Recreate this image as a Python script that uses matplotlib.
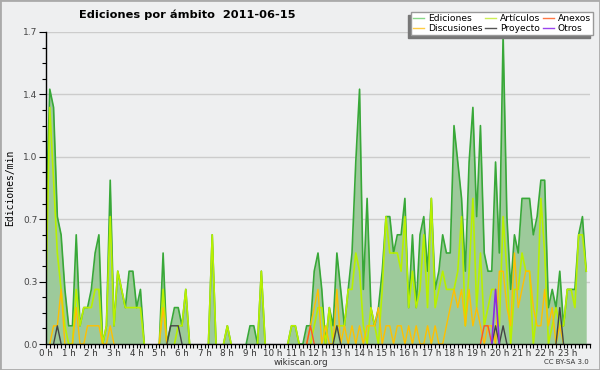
import numpy as np
import matplotlib
matplotlib.use("Agg")
import matplotlib.pyplot as plt
from matplotlib.lines import Line2D
from matplotlib.patches import Rectangle

# edits per minute, one value per 10-minute slot (144 slots = 24 h)
ediciones = [
    0.7, 1.4, 1.3, 0.7, 0.6, 0.3, 0.1, 0.1, 0.6, 0.1, 0.2, 0.2,
    0.3, 0.5, 0.6, 0.0, 0.1, 0.9, 0.1, 0.4, 0.3, 0.2, 0.4, 0.4,
    0.2, 0.3, 0.0, 0.0, 0.0, 0.0, 0.0, 0.5, 0.0, 0.1, 0.2, 0.2,
    0.1, 0.3, 0.0, 0.0, 0.0, 0.0, 0.0, 0.0, 0.6, 0.0, 0.0, 0.0,
    0.1, 0.0, 0.0, 0.0, 0.0, 0.0, 0.1, 0.1, 0.0, 0.4, 0.0, 0.0,
    0.0, 0.0, 0.0, 0.0, 0.0, 0.1, 0.1, 0.0, 0.0, 0.1, 0.1, 0.4,
    0.5, 0.3, 0.0, 0.2, 0.1, 0.5, 0.3, 0.1, 0.3, 0.5, 1.0, 1.4,
    0.3, 0.8, 0.2, 0.1, 0.2, 0.4, 0.7, 0.7, 0.5, 0.6, 0.6, 0.8,
    0.2, 0.6, 0.2, 0.6, 0.7, 0.4, 0.8, 0.3, 0.4, 0.6, 0.5, 0.5,
    1.2, 1.0, 0.8, 0.4, 1.0, 1.3, 0.7, 1.2, 0.5, 0.4, 0.4, 1.0,
    0.5, 1.7, 0.7, 0.3, 0.6, 0.5, 0.8, 0.8, 0.8, 0.6, 0.7, 0.9,
    0.9, 0.2, 0.3, 0.2, 0.4, 0.1, 0.3, 0.3, 0.3, 0.6, 0.7, 0.4,
]
articulos = [
    0.3, 1.3, 0.9, 0.5, 0.3, 0.1, 0.0, 0.0, 0.3, 0.1, 0.2, 0.2,
    0.2, 0.3, 0.3, 0.0, 0.1, 0.7, 0.1, 0.4, 0.3, 0.2, 0.2, 0.2,
    0.2, 0.2, 0.0, 0.0, 0.0, 0.0, 0.0, 0.3, 0.0, 0.0, 0.0, 0.1,
    0.1, 0.3, 0.0, 0.0, 0.0, 0.0, 0.0, 0.0, 0.6, 0.0, 0.0, 0.0,
    0.1, 0.0, 0.0, 0.0, 0.0, 0.0, 0.0, 0.0, 0.0, 0.4, 0.0, 0.0,
    0.0, 0.0, 0.0, 0.0, 0.0, 0.1, 0.1, 0.0, 0.0, 0.0, 0.0, 0.1,
    0.2, 0.2, 0.0, 0.2, 0.0, 0.1, 0.1, 0.1, 0.3, 0.3, 0.5, 0.4,
    0.1, 0.0, 0.2, 0.1, 0.0, 0.3, 0.7, 0.5, 0.5, 0.5, 0.4, 0.7,
    0.2, 0.4, 0.2, 0.3, 0.6, 0.2, 0.8, 0.2, 0.3, 0.4, 0.3, 0.3,
    0.3, 0.4, 0.7, 0.1, 0.4, 0.8, 0.2, 0.5, 0.1, 0.2, 0.3, 0.3,
    0.1, 0.7, 0.4, 0.0, 0.3, 0.3, 0.5, 0.4, 0.4, 0.0, 0.2, 0.8,
    0.5, 0.0, 0.1, 0.2, 0.1, 0.1, 0.3, 0.3, 0.2, 0.6, 0.6, 0.4,
]
discusiones = [
    0.0, 0.0, 0.1, 0.1, 0.3, 0.0, 0.0, 0.0, 0.2, 0.0, 0.0, 0.1,
    0.1, 0.1, 0.1, 0.0, 0.0, 0.1, 0.0, 0.0, 0.0, 0.0, 0.0, 0.0,
    0.0, 0.0, 0.0, 0.0, 0.0, 0.0, 0.0, 0.2, 0.0, 0.0, 0.0, 0.0,
    0.0, 0.0, 0.0, 0.0, 0.0, 0.0, 0.0, 0.0, 0.0, 0.0, 0.0, 0.0,
    0.0, 0.0, 0.0, 0.0, 0.0, 0.0, 0.0, 0.0, 0.0, 0.0, 0.0, 0.0,
    0.0, 0.0, 0.0, 0.0, 0.0, 0.0, 0.0, 0.0, 0.0, 0.0, 0.1, 0.2,
    0.3, 0.0, 0.1, 0.0, 0.0, 0.3, 0.0, 0.1, 0.0, 0.1, 0.0, 0.1,
    0.0, 0.1, 0.1, 0.1, 0.2, 0.0, 0.1, 0.1, 0.0, 0.1, 0.1, 0.0,
    0.1, 0.0, 0.1, 0.0, 0.0, 0.1, 0.0, 0.1, 0.0, 0.0, 0.1, 0.2,
    0.3, 0.2, 0.3, 0.1, 0.3, 0.1, 0.2, 0.1, 0.0, 0.1, 0.1, 0.0,
    0.4, 0.4, 0.2, 0.1, 0.5, 0.2, 0.3, 0.4, 0.4, 0.2, 0.1, 0.1,
    0.3, 0.1, 0.2, 0.0, 0.1, 0.0, 0.0, 0.0, 0.0, 0.0, 0.0, 0.0,
]
anexos = [
    0.0, 0.0, 0.0, 0.0, 0.0, 0.0, 0.0, 0.0, 0.0, 0.0, 0.0, 0.0,
    0.0, 0.0, 0.0, 0.0, 0.0, 0.0, 0.0, 0.0, 0.0, 0.0, 0.0, 0.0,
    0.0, 0.0, 0.0, 0.0, 0.0, 0.0, 0.0, 0.0, 0.0, 0.0, 0.0, 0.0,
    0.0, 0.0, 0.0, 0.0, 0.0, 0.0, 0.0, 0.0, 0.0, 0.0, 0.0, 0.0,
    0.0, 0.0, 0.0, 0.0, 0.0, 0.0, 0.0, 0.0, 0.0, 0.0, 0.0, 0.0,
    0.0, 0.0, 0.0, 0.0, 0.0, 0.0, 0.0, 0.0, 0.0, 0.0, 0.1, 0.0,
    0.0, 0.0, 0.0, 0.0, 0.0, 0.0, 0.0, 0.0, 0.0, 0.0, 0.0, 0.0,
    0.0, 0.0, 0.0, 0.0, 0.0, 0.0, 0.0, 0.0, 0.0, 0.0, 0.0, 0.0,
    0.0, 0.0, 0.0, 0.0, 0.0, 0.0, 0.0, 0.0, 0.0, 0.0, 0.0, 0.0,
    0.0, 0.0, 0.0, 0.0, 0.0, 0.0, 0.0, 0.0, 0.1, 0.1, 0.0, 0.0,
    0.0, 0.0, 0.0, 0.0, 0.0, 0.0, 0.0, 0.0, 0.0, 0.0, 0.0, 0.0,
    0.0, 0.0, 0.0, 0.0, 0.0, 0.0, 0.0, 0.0, 0.0, 0.0, 0.0, 0.0,
]
proyecto = [
    0.0, 0.0, 0.0, 0.1, 0.0, 0.0, 0.0, 0.0, 0.0, 0.0, 0.0, 0.0,
    0.0, 0.0, 0.0, 0.0, 0.0, 0.0, 0.0, 0.0, 0.0, 0.0, 0.0, 0.0,
    0.0, 0.0, 0.0, 0.0, 0.0, 0.0, 0.0, 0.0, 0.0, 0.1, 0.1, 0.1,
    0.0, 0.0, 0.0, 0.0, 0.0, 0.0, 0.0, 0.0, 0.0, 0.0, 0.0, 0.0,
    0.0, 0.0, 0.0, 0.0, 0.0, 0.0, 0.0, 0.0, 0.0, 0.0, 0.0, 0.0,
    0.0, 0.0, 0.0, 0.0, 0.0, 0.0, 0.0, 0.0, 0.0, 0.0, 0.0, 0.0,
    0.0, 0.0, 0.0, 0.0, 0.0, 0.1, 0.0, 0.0, 0.0, 0.0, 0.0, 0.0,
    0.0, 0.0, 0.0, 0.0, 0.0, 0.0, 0.0, 0.0, 0.0, 0.0, 0.0, 0.0,
    0.0, 0.0, 0.0, 0.0, 0.0, 0.0, 0.0, 0.0, 0.0, 0.0, 0.0, 0.0,
    0.0, 0.0, 0.0, 0.0, 0.0, 0.0, 0.0, 0.0, 0.0, 0.0, 0.0, 0.1,
    0.0, 0.1, 0.0, 0.0, 0.0, 0.0, 0.0, 0.0, 0.0, 0.0, 0.0, 0.0,
    0.0, 0.0, 0.0, 0.0, 0.2, 0.0, 0.0, 0.0, 0.0, 0.0, 0.0, 0.0,
]
otros = [
    0.0, 0.0, 0.0, 0.0, 0.0, 0.0, 0.0, 0.0, 0.0, 0.0, 0.0, 0.0,
    0.0, 0.0, 0.0, 0.0, 0.0, 0.0, 0.0, 0.0, 0.0, 0.0, 0.0, 0.0,
    0.0, 0.0, 0.0, 0.0, 0.0, 0.0, 0.0, 0.0, 0.0, 0.0, 0.0, 0.0,
    0.0, 0.0, 0.0, 0.0, 0.0, 0.0, 0.0, 0.0, 0.0, 0.0, 0.0, 0.0,
    0.0, 0.0, 0.0, 0.0, 0.0, 0.0, 0.0, 0.0, 0.0, 0.0, 0.0, 0.0,
    0.0, 0.0, 0.0, 0.0, 0.0, 0.0, 0.0, 0.0, 0.0, 0.0, 0.0, 0.0,
    0.0, 0.0, 0.0, 0.0, 0.0, 0.0, 0.0, 0.0, 0.0, 0.0, 0.0, 0.0,
    0.0, 0.0, 0.0, 0.0, 0.0, 0.0, 0.0, 0.0, 0.0, 0.0, 0.0, 0.0,
    0.0, 0.0, 0.0, 0.0, 0.0, 0.0, 0.0, 0.0, 0.0, 0.0, 0.0, 0.0,
    0.0, 0.0, 0.0, 0.0, 0.0, 0.0, 0.0, 0.0, 0.0, 0.0, 0.0, 0.3,
    0.0, 0.0, 0.0, 0.0, 0.0, 0.0, 0.0, 0.0, 0.0, 0.0, 0.0, 0.0,
    0.0, 0.0, 0.0, 0.0, 0.0, 0.0, 0.0, 0.0, 0.0, 0.0, 0.0, 0.0,
]

hour_labels = [f"{h} h" for h in range(24)]
y_labels = ["0.0", "0.3", "0.7", "1.0", "1.4", "1.7"]
Y_TOP = 1.7143

BG = "#eeeff0"


def hide_zero_runs(values):
    # drop points sitting on the baseline between two other zeros
    arr = np.array(values, dtype=float)
    z = arr == 0
    prev_z = np.r_[True, z[:-1]]
    next_z = np.r_[z[1:], True]
    arr[z & prev_z & next_z] = np.nan
    return arr


x = np.arange(len(ediciones)) / 6.0

fig = plt.figure(figsize=(6, 3.7), dpi=100)
fig.patch.set_facecolor(BG)
fig.patches.append(Rectangle((0, 0), 1, 1, transform=fig.transFigure,
                             fill=False, edgecolor="#aaaaaa", lw=2))

ax = fig.add_axes([46 / 600, 1 - 344 / 370, 544 / 600, 312 / 370])
ax.set_facecolor(BG)

ax.fill_between(x, ediciones, 0, color="#9dca9b", lw=0, zorder=2)
ax.plot(x, hide_zero_runs(ediciones), color="#38a838", lw=1.2, zorder=3)
ax.plot(x, hide_zero_runs(articulos), color="#b8f000", lw=1.2, zorder=4)
ax.plot(x, hide_zero_runs(discusiones), color="#ffc000", lw=1.0, zorder=5)
ax.plot(x, hide_zero_runs(anexos), color="#ff5522", lw=1.0, zorder=6)
ax.plot(x, hide_zero_runs(proyecto), color="#444444", lw=1.0, zorder=7)
ax.plot(x, hide_zero_runs(otros), color="#8a2be2", lw=1.2, zorder=8)

ax.set_xlim(0, 24)
ax.set_ylim(0, Y_TOP)

ax.set_xticks(range(24))
ax.set_xticklabels(hour_labels)
ax.set_xticks(np.arange(0, 24.01, 1 / 6), minor=True)
ax.set_yticks(np.linspace(0, Y_TOP, 6))
ax.set_yticklabels(y_labels)
ax.set_yticks(np.linspace(0, Y_TOP, 21), minor=True)

ax.tick_params(axis="x", which="both", direction="out", length=3, width=0.8,
               labelsize=6.3, pad=0.5, labelcolor="#333333")
ax.tick_params(axis="y", which="major", direction="out", length=5, width=0.8,
               labelsize=6.5, pad=1, labelcolor="#444444")
ax.tick_params(axis="y", which="minor", direction="out", length=3, width=0.8)

ax.yaxis.grid(True, color="#cccccc", lw=1)
ax.set_axisbelow(True)
for side in ("top", "right"):
    ax.spines[side].set_visible(False)
for side in ("left", "bottom"):
    ax.spines[side].set_color("black")
    ax.spines[side].set_linewidth(1)
    ax.spines[side].set_zorder(10)

fig.text(187 / 600, 1 - 15 / 370, "Ediciones por ámbito  2011-06-15",
         ha="center", va="center", fontsize=8.2, fontweight="bold")
fig.text(10 / 600, 1 - 188 / 370, "Ediciones/min", rotation=90,
         ha="center", va="center", fontsize=7, family="DejaVu Sans Mono")
fig.text(301 / 600, 1 - 362.5 / 370, "wikiscan.org", ha="center", va="center",
         fontsize=6.3, color="#333333")
fig.text(589 / 600, 1 - 362.5 / 370, "CC BY-SA 3.0", ha="right", va="center",
         fontsize=5, color="#333333")

handles = [
    Line2D([], [], color="#88d888", lw=1),
    Line2D([], [], color="#ffcc44", lw=1),
    Line2D([], [], color="#ccee55", lw=1),
    Line2D([], [], color="#555555", lw=1),
    Line2D([], [], color="#ff7744", lw=1),
    Line2D([], [], color="#9944ee", lw=1),
]
labels = ["Ediciones", "Discusiones", "Artículos", "Proyecto", "Anexos", "Otros"]
leg = fig.legend(handles, labels, ncol=3, loc="upper right",
                 bbox_to_anchor=(593 / 600, 1 - 12 / 370), fontsize=6.6,
                 handlelength=1.2, handletextpad=0.4, columnspacing=0.3,
                 labelspacing=0.05, borderpad=0.25, borderaxespad=0,
                 fancybox=False, framealpha=1, edgecolor="#999999")
leg.get_frame().set_linewidth(1)

# legend shadow, offset to the lower left
fig.canvas.draw()
bb = leg.get_window_extent().transformed(fig.transFigure.inverted())
dx, dy = 3 / 600, 3 / 370
fig.patches.append(Rectangle((bb.x0 - dx, bb.y0 - dy), bb.width, bb.height,
                             transform=fig.transFigure, color="#777777",
                             zorder=4))

fig.savefig("out.png", dpi=100, facecolor=BG)
